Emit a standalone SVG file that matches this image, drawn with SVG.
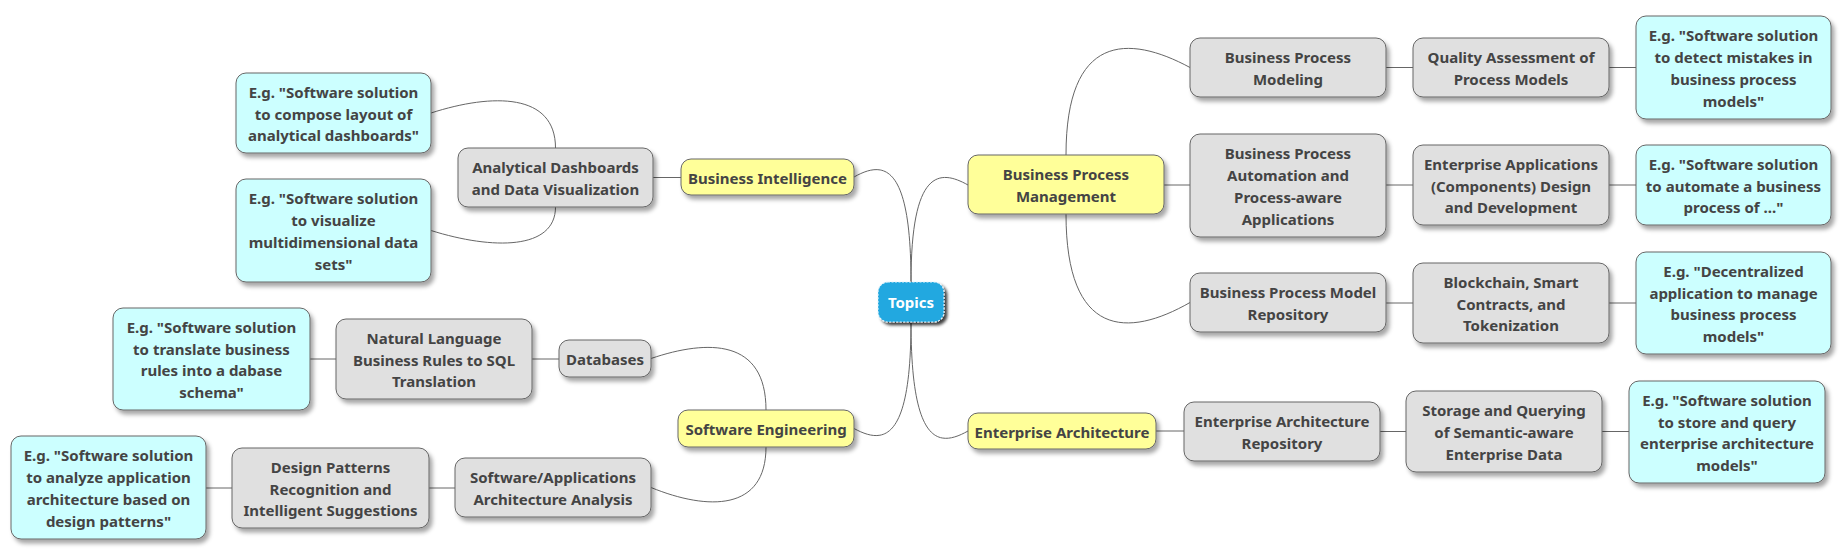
<svg xmlns="http://www.w3.org/2000/svg" width="1848" height="559" viewBox="0 0 1848 559">
<defs>
<filter id="sh" x="-10%" y="-10%" width="130%" height="140%">
<feDropShadow dx="3" dy="4" stdDeviation="2" flood-color="#000" flood-opacity="0.35"/>
</filter>
<filter id="sh2" x="-20%" y="-20%" width="150%" height="160%">
<feDropShadow dx="3" dy="3" stdDeviation="1.5" flood-color="#000" flood-opacity="0.75"/>
</filter>
<style>
.n rect{stroke:#666;stroke-width:1}
.g rect{fill:#e0e0e0}
.y rect{fill:#ffff99}
.c rect{fill:#ccffff}
text{font-family:"Noto Sans","Open Sans","DejaVu Sans",sans-serif;font-size:15px;font-weight:700;fill:#444;text-anchor:middle}
.t text{fill:#fff}
#connectors path{fill:none;stroke:#666;stroke-width:1}
</style>
</defs>
<rect width="1848" height="559" fill="#fff"/>
<g id="connectors">
<path d="M653,177.5 H681"/>
<path d="M310,359 H336"/>
<path d="M532,359 H559"/>
<path d="M206,488 H232"/>
<path d="M429,488 H455"/>
<path d="M1164,185 H1190"/>
<path d="M1386,67.5 H1413"/>
<path d="M1609,67.5 H1636"/>
<path d="M1386,185 H1413"/>
<path d="M1609,185 H1636"/>
<path d="M1386,303 H1413"/>
<path d="M1609,303 H1636"/>
<path d="M1156,431 H1184"/>
<path d="M1380,431.5 H1406"/>
<path d="M1602,431.5 H1629"/>
<path d="M911,282 C911,169 939.5,169 968,185"/>
<path d="M911,322 C911,447 939.5,447 968,431"/>
<path d="M911,282 C911,161 882.5,161 854,177"/>
<path d="M911,322 C911,444 882.5,444 854,428.5"/>
<path d="M1066,155 C1066,34 1128,34 1190,67.5"/>
<path d="M1066,214 C1066,338 1128,338 1190,302.5"/>
<path d="M555.5,148 C555.5,93 493,93 431,113"/>
<path d="M555.5,207 C555.5,250 493,250 431,230.5"/>
<path d="M766,410 C766,339 708.5,339 651,358.5"/>
<path d="M766,447 C766,511 708.5,511 651,487.5"/>
</g>

<g id="topics" class="t">
<rect x="878" y="282" width="66" height="40" rx="10" fill="#22a8e0" stroke="#e6f4fb" stroke-width="1.2" stroke-dasharray="2 1.5" filter="url(#sh2)"/>
<text x="911" y="308" font-size="16">Topics</text>
</g>

<g id="business-intelligence" class="n y">
<rect x="681" y="159" width="173" height="36" rx="10" filter="url(#sh)"/>
<text x="767.5" y="183.5">Business Intelligence</text>
</g>
<g id="analytical-dashboards" class="n g">
<rect x="458" y="148" width="195" height="59" rx="10" filter="url(#sh)"/>
<text x="555.5"><tspan x="555.5" y="173.15">Analytical Dashboards</tspan><tspan x="555.5" y="194.85">and Data Visualization</tspan></text>
</g>
<g id="eg-compose" class="n c">
<rect x="236" y="73" width="195" height="80" rx="10" filter="url(#sh)"/>
<text><tspan x="333.5" y="97.8">E.g. "Software solution</tspan><tspan x="333.5" y="119.5">to compose layout of</tspan><tspan x="333.5" y="141.2">analytical dashboards"</tspan></text>
</g>
<g id="eg-visualize" class="n c">
<rect x="236" y="179" width="195" height="103" rx="10" filter="url(#sh)"/>
<text><tspan x="333.5" y="204.45">E.g. "Software solution</tspan><tspan x="333.5" y="226.15">to visualize</tspan><tspan x="333.5" y="247.85">multidimensional data</tspan><tspan x="333.5" y="269.55">sets"</tspan></text>
</g>

<g id="software-engineering" class="n y">
<rect x="678" y="410" width="176" height="37" rx="10" filter="url(#sh)"/>
<text x="766" y="435">Software Engineering</text>
</g>
<g id="databases" class="n g">
<rect x="559" y="340" width="92" height="37" rx="10" filter="url(#sh)"/>
<text x="605" y="365">Databases</text>
</g>
<g id="natural-language" class="n g">
<rect x="336" y="319" width="196" height="80" rx="10" filter="url(#sh)"/>
<text><tspan x="434" y="343.8">Natural Language</tspan><tspan x="434" y="365.5">Business Rules to SQL</tspan><tspan x="434" y="387.2">Translation</tspan></text>
</g>
<g id="eg-translate" class="n c">
<rect x="113" y="308" width="197" height="102" rx="10" filter="url(#sh)"/>
<text><tspan x="211.5" y="332.95">E.g. "Software solution</tspan><tspan x="211.5" y="354.65">to translate business</tspan><tspan x="211.5" y="376.35">rules into a dabase</tspan><tspan x="211.5" y="398.05">schema"</tspan></text>
</g>
<g id="software-architecture" class="n g">
<rect x="455" y="458" width="196" height="59" rx="10" filter="url(#sh)"/>
<text><tspan x="553" y="483.15">Software/Applications</tspan><tspan x="553" y="504.85">Architecture Analysis</tspan></text>
</g>
<g id="design-patterns" class="n g">
<rect x="232" y="448" width="197" height="80" rx="10" filter="url(#sh)"/>
<text><tspan x="330.5" y="472.8">Design Patterns</tspan><tspan x="330.5" y="494.5">Recognition and</tspan><tspan x="330.5" y="516.2">Intelligent Suggestions</tspan></text>
</g>
<g id="eg-analyze" class="n c">
<rect x="11" y="436" width="195" height="103" rx="10" filter="url(#sh)"/>
<text><tspan x="108.5" y="461.45">E.g. "Software solution</tspan><tspan x="108.5" y="483.15">to analyze application</tspan><tspan x="108.5" y="504.85">architecture based on</tspan><tspan x="108.5" y="526.55">design patterns"</tspan></text>
</g>

<g id="business-process-management" class="n y">
<rect x="968" y="155" width="196" height="59" rx="10" filter="url(#sh)"/>
<text><tspan x="1066" y="180.15">Business Process</tspan><tspan x="1066" y="201.85">Management</tspan></text>
</g>
<g id="bp-modeling" class="n g">
<rect x="1190" y="38" width="196" height="59" rx="10" filter="url(#sh)"/>
<text><tspan x="1288" y="63.15">Business Process</tspan><tspan x="1288" y="84.85">Modeling</tspan></text>
</g>
<g id="quality-assessment" class="n g">
<rect x="1413" y="38" width="196" height="59" rx="10" filter="url(#sh)"/>
<text><tspan x="1511" y="63.15">Quality Assessment of</tspan><tspan x="1511" y="84.85">Process Models</tspan></text>
</g>
<g id="eg-detect" class="n c">
<rect x="1636" y="16" width="195" height="103" rx="10" filter="url(#sh)"/>
<text><tspan x="1733.5" y="41.45">E.g. "Software solution</tspan><tspan x="1733.5" y="63.15">to detect mistakes in</tspan><tspan x="1733.5" y="84.85">business process</tspan><tspan x="1733.5" y="106.55">models"</tspan></text>
</g>
<g id="bp-automation" class="n g">
<rect x="1190" y="134" width="196" height="103" rx="10" filter="url(#sh)"/>
<text><tspan x="1288" y="159.45">Business Process</tspan><tspan x="1288" y="181.15">Automation and</tspan><tspan x="1288" y="202.85">Process-aware</tspan><tspan x="1288" y="224.55">Applications</tspan></text>
</g>
<g id="enterprise-applications" class="n g">
<rect x="1413" y="145" width="196" height="80" rx="10" filter="url(#sh)"/>
<text><tspan x="1511" y="169.8">Enterprise Applications</tspan><tspan x="1511" y="191.5">(Components) Design</tspan><tspan x="1511" y="213.2">and Development</tspan></text>
</g>
<g id="eg-automate" class="n c">
<rect x="1636" y="145" width="195" height="80" rx="10" filter="url(#sh)"/>
<text><tspan x="1733.5" y="169.8">E.g. "Software solution</tspan><tspan x="1733.5" y="191.5">to automate a business</tspan><tspan x="1733.5" y="213.2">process of ..."</tspan></text>
</g>
<g id="bp-model-repository" class="n g">
<rect x="1190" y="273" width="196" height="59" rx="10" filter="url(#sh)"/>
<text><tspan x="1288" y="298.15">Business Process Model</tspan><tspan x="1288" y="319.85">Repository</tspan></text>
</g>
<g id="blockchain" class="n g">
<rect x="1413" y="263" width="196" height="80" rx="10" filter="url(#sh)"/>
<text><tspan x="1511" y="287.8">Blockchain, Smart</tspan><tspan x="1511" y="309.5">Contracts, and</tspan><tspan x="1511" y="331.2">Tokenization</tspan></text>
</g>
<g id="eg-decentralized" class="n c">
<rect x="1636" y="252" width="195" height="102" rx="10" filter="url(#sh)"/>
<text><tspan x="1733.5" y="276.95">E.g. "Decentralized</tspan><tspan x="1733.5" y="298.65">application to manage</tspan><tspan x="1733.5" y="320.35">business process</tspan><tspan x="1733.5" y="342.05">models"</tspan></text>
</g>

<g id="enterprise-architecture" class="n y">
<rect x="968" y="413" width="188" height="36" rx="10" filter="url(#sh)"/>
<text x="1062" y="437.5">Enterprise Architecture</text>
</g>
<g id="ea-repository" class="n g">
<rect x="1184" y="402" width="196" height="59" rx="10" filter="url(#sh)"/>
<text><tspan x="1282" y="427.15">Enterprise Architecture</tspan><tspan x="1282" y="448.85">Repository</tspan></text>
</g>
<g id="storage-querying" class="n g">
<rect x="1406" y="391" width="196" height="81" rx="10" filter="url(#sh)"/>
<text><tspan x="1504" y="416.3">Storage and Querying</tspan><tspan x="1504" y="438">of Semantic-aware</tspan><tspan x="1504" y="459.7">Enterprise Data</tspan></text>
</g>
<g id="eg-store" class="n c">
<rect x="1629" y="381" width="196" height="102" rx="10" filter="url(#sh)"/>
<text><tspan x="1727" y="405.95">E.g. "Software solution</tspan><tspan x="1727" y="427.65">to store and query</tspan><tspan x="1727" y="449.35">enterprise architecture</tspan><tspan x="1727" y="471.05">models"</tspan></text>
</g>
</svg>
